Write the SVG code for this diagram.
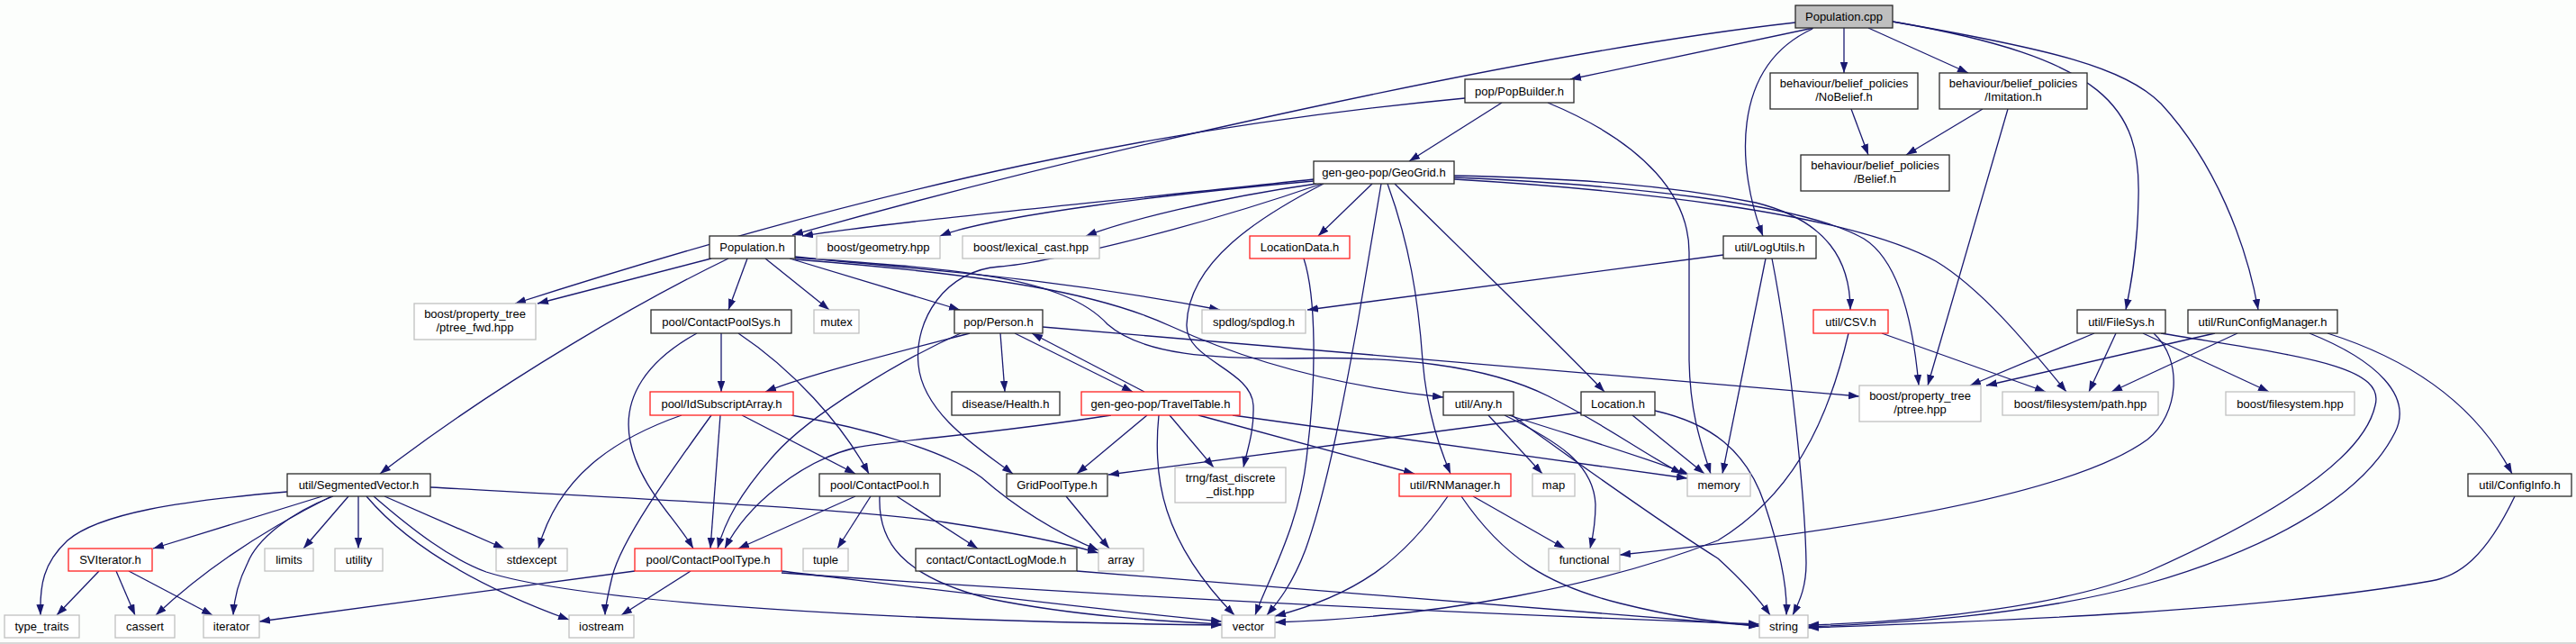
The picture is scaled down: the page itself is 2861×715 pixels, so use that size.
<svg xmlns="http://www.w3.org/2000/svg" width="2861" height="715" viewBox="0 0 2861 715">
<style>
.bg{fill:#fcfefc}
.node rect{fill:#ffffff;stroke-width:1.3}
.b rect{stroke:#2a2a2a}
.r rect{stroke:#ff2020}
.g rect{stroke:#c0c0c0}
.root rect{fill:#bfbfbf;stroke:#2a2a2a}
.node text{font-family:"Liberation Sans",Arial,sans-serif;font-size:13px;fill:#000;text-anchor:middle}
#edges path{fill:none;stroke:#191970;stroke-width:1.3;marker-end:url(#a)}
</style>
<defs>
<marker id="a" markerUnits="userSpaceOnUse" markerWidth="13" markerHeight="9" refX="12" refY="4.25" orient="auto">
<path d="M0,0 L12,4.25 L0,8.5 z" fill="#191970"/>
</marker>
</defs>
<rect class="bg" x="0" y="0" width="2861" height="715"/>
<line x1="0" y1="714" x2="2861" y2="714" stroke="#b4b4b4" stroke-width="1"/>

<g id="edges">
<path d="M1994,25 C1700,58 1200,170 880,261"/>
<path d="M2014,31 L1744,88"/>
<path d="M2048,31 L2048,81"/>
<path d="M2075,31 L2186,81"/>
<path d="M2013,32 C1920,75 1930,190 1958,262"/>
<path d="M2102,24 C2340,65 2378,120 2375,220 C2374,280 2366,320 2361,344"/>
<path d="M2102,24 C2280,55 2360,75 2400,115 C2460,180 2495,270 2508,344"/>
<path d="M1627,109 C1300,140 1000,200 572,337"/>
<path d="M1668,114 L1565,179"/>
<path d="M1719,114 C1830,160 1876,220 1876,280 L1876,400 C1877,460 1890,495 1900,526"/>
<path d="M2056,121 L2075,172"/>
<path d="M2202,121 L2117,172"/>
<path d="M2230,121 L2141,428"/>
<path d="M1459,199 C1250,222 1000,245 891,262"/>
<path d="M1459,201 C1300,215 1100,240 1044,262"/>
<path d="M1462,204 C1350,220 1250,245 1206,262"/>
<path d="M1468,204 C1300,262 1150,293 1110,296 C1050,300 1015,355 1020,405 C1025,460 1090,500 1125,526"/>
<path d="M1470,204 C1400,240 1320,290 1318,360 C1316,400 1390,410 1392,450 C1393,480 1385,500 1381,519"/>
<path d="M1524,204 L1464,262"/>
<path d="M1534,204 L1508,358 C1495,430 1475,540 1450,610 C1435,650 1418,670 1407,683"/>
<path d="M1541,204 C1565,270 1575,330 1580,400 C1585,460 1600,500 1611,526"/>
<path d="M1549,204 C1620,275 1720,370 1782,435"/>
<path d="M1615,195 C1750,198 1850,205 1950,225 C2030,245 2055,290 2055,344"/>
<path d="M1615,197 C1800,205 2000,225 2070,265 C2110,290 2125,360 2131,428"/>
<path d="M1615,199 C1800,210 2050,235 2150,290 C2200,320 2250,380 2295,435"/>
<path d="M1448,287 C1462,330 1462,420 1452,500 C1445,580 1410,640 1394,683"/>
<path d="M790,287 L597,337"/>
<path d="M809,287 C720,330 560,420 422,526"/>
<path d="M830,287 L809,344"/>
<path d="M850,287 L921,344"/>
<path d="M877,287 L1066,344"/>
<path d="M883,285 C1000,298 1150,305 1355,344"/>
<path d="M883,288 C1100,305 1220,325 1300,362 C1350,385 1450,425 1603,441"/>
<path d="M883,286 C1050,298 1180,305 1230,360 C1270,395 1350,398 1431,398 C1550,395 1650,405 1720,440 C1780,470 1820,500 1868,526"/>
<path d="M1077,370 C1000,390 900,415 850,435"/>
<path d="M1067,370 C1000,400 900,460 860,505 C820,550 805,580 797,609"/>
<path d="M1111,370 L1116,435"/>
<path d="M1127,370 L1258,435"/>
<path d="M1271,435 L1146,370"/>
<path d="M1158,363 L2065,440"/>
<path d="M757,461 C680,488 620,530 598,609"/>
<path d="M790,461 C740,530 690,600 680,640 C674,665 672,675 672,683"/>
<path d="M800,461 L789,609"/>
<path d="M824,461 L950,526"/>
<path d="M879,461 C960,475 1050,500 1090,530 C1130,565 1170,590 1220,611"/>
<path d="M801,370 L801,435"/>
<path d="M774,370 C720,400 690,440 700,490 C710,540 750,575 770,609"/>
<path d="M820,370 C880,410 935,470 965,526"/>
<path d="M950,551 L820,609"/>
<path d="M967,551 L930,609"/>
<path d="M996,551 L1086,609"/>
<path d="M977,551 C975,600 1000,640 1100,665 C1200,685 1300,690 1357,693"/>
<path d="M767,634 L690,683"/>
<path d="M705,634 L288,690"/>
<path d="M868,634 C1000,650 1200,675 1357,690"/>
<path d="M868,636 C1200,660 1600,680 1954,693"/>
<path d="M1196,634 C1500,660 1800,685 1954,695"/>
<path d="M319,546 C200,556 110,570 75,600 C48,625 44,650 45,683"/>
<path d="M358,551 L170,609"/>
<path d="M368,551 C320,575 240,620 173,683"/>
<path d="M370,551 C320,570 285,600 275,625 C265,645 260,665 259,683"/>
<path d="M387,551 L337,609"/>
<path d="M398,551 L398,609"/>
<path d="M427,551 L560,609"/>
<path d="M407,551 C440,590 500,640 632,688"/>
<path d="M415,551 C460,590 500,620 540,635 C650,670 1000,690 1357,694"/>
<path d="M478,541 C700,553 950,565 1050,580 C1130,592 1190,605 1220,614"/>
<path d="M110,634 L63,683"/>
<path d="M129,634 L150,683"/>
<path d="M143,634 L236,683"/>
<path d="M1184,551 L1232,609"/>
<path d="M1274,461 L1196,526"/>
<path d="M1299,461 L1348,519"/>
<path d="M1287,461 C1280,530 1290,600 1371,683"/>
<path d="M1234,461 C1100,482 1000,488 950,497 C890,512 830,560 805,609"/>
<path d="M1331,461 L1571,526"/>
<path d="M1369,461 L1874,531"/>
<path d="M1756,458 L1231,527"/>
<path d="M1813,461 L1893,526"/>
<path d="M1838,456 C1900,470 1940,500 1960,560 C1980,620 1985,660 1984,683"/>
<path d="M1653,461 L1713,526"/>
<path d="M1671,461 C1730,490 1770,515 1772,560 C1772,585 1768,600 1766,609"/>
<path d="M1676,461 C1750,485 1820,505 1876,527"/>
<path d="M1679,461 C1760,520 1860,590 1908,620 C1930,640 1950,660 1966,683"/>
<path d="M1914,283 L1452,344"/>
<path d="M1961,287 L1913,526"/>
<path d="M1968,287 C1990,400 2005,560 2006,625 C2006,650 2000,665 1991,683"/>
<path d="M2090,370 L2272,435"/>
<path d="M2053,370 C2030,470 1990,550 1908,600 C1780,650 1600,685 1416,691"/>
<path d="M1608,551 C1560,620 1510,660 1416,684"/>
<path d="M1636,551 L1738,609"/>
<path d="M1623,551 C1670,620 1720,650 1800,670 C1860,685 1900,690 1954,695"/>
<path d="M2326,370 L2188,428"/>
<path d="M2350,370 L2320,435"/>
<path d="M2380,370 L2520,435"/>
<path d="M2392,370 C2425,400 2420,460 2385,488 C2300,550 2050,590 1799,616"/>
<path d="M2400,370 C2550,395 2650,405 2638,450 C2625,510 2520,575 2385,635 C2300,670 2150,690 2008,694"/>
<path d="M2460,370 L2206,428"/>
<path d="M2485,370 L2345,435"/>
<path d="M2565,370 C2640,400 2680,440 2660,480 C2620,560 2500,615 2385,648 C2250,685 2100,692 2008,696"/>
<path d="M2585,370 C2680,400 2750,450 2790,526"/>
<path d="M2793,551 C2760,620 2730,640 2700,645 C2500,680 2200,690 2008,697"/>
</g>

<g id="n_population_cpp" class="node root"><rect x="1994" y="6" width="108" height="25"/><text x="2048" y="23">Population.cpp</text></g>
<g id="n_popbuilder" class="node b"><rect x="1627" y="88" width="121" height="26"/><text x="1687.5" y="106">pop/PopBuilder.h</text></g>
<g id="n_nobelief" class="node b"><rect x="1966" y="81" width="164" height="40"/><text x="2048" y="97">behaviour/belief_policies</text><text x="2048" y="112">/NoBelief.h</text></g>
<g id="n_imitation" class="node b"><rect x="2154" y="81" width="164" height="40"/><text x="2236" y="97">behaviour/belief_policies</text><text x="2236" y="112">/Imitation.h</text></g>
<g id="n_belief" class="node b"><rect x="2000" y="172" width="165" height="40"/><text x="2082.5" y="188">behaviour/belief_policies</text><text x="2082.5" y="203">/Belief.h</text></g>
<g id="n_geogrid" class="node b"><rect x="1459" y="179" width="156" height="25"/><text x="1537" y="196">gen-geo-pop/GeoGrid.h</text></g>
<g id="n_population_h" class="node b"><rect x="788" y="262" width="95" height="25"/><text x="835.5" y="279">Population.h</text></g>
<g id="n_geometry" class="node g"><rect x="907" y="262" width="137" height="25"/><text x="975.5" y="279">boost/geometry.hpp</text></g>
<g id="n_lexical_cast" class="node g"><rect x="1069" y="262" width="152" height="25"/><text x="1145" y="279">boost/lexical_cast.hpp</text></g>
<g id="n_locationdata" class="node r"><rect x="1388" y="262" width="111" height="25"/><text x="1443.5" y="279">LocationData.h</text></g>
<g id="n_logutils" class="node b"><rect x="1914" y="262" width="103" height="25"/><text x="1965.5" y="279">util/LogUtils.h</text></g>
<g id="n_ptree_fwd" class="node g"><rect x="460" y="337" width="135" height="40"/><text x="527.5" y="353">boost/property_tree</text><text x="527.5" y="368">/ptree_fwd.hpp</text></g>
<g id="n_contactpoolsys" class="node b"><rect x="723" y="344" width="156" height="26"/><text x="801" y="362">pool/ContactPoolSys.h</text></g>
<g id="n_mutex" class="node g"><rect x="904" y="344" width="50" height="26"/><text x="929" y="362">mutex</text></g>
<g id="n_person" class="node b"><rect x="1060" y="344" width="98" height="26"/><text x="1109" y="362">pop/Person.h</text></g>
<g id="n_spdlog" class="node g"><rect x="1335" y="344" width="115" height="26"/><text x="1392.5" y="362">spdlog/spdlog.h</text></g>
<g id="n_csv" class="node r"><rect x="2014" y="344" width="83" height="26"/><text x="2055.5" y="362">util/CSV.h</text></g>
<g id="n_filesys" class="node b"><rect x="2307" y="344" width="98" height="26"/><text x="2356" y="362">util/FileSys.h</text></g>
<g id="n_runconfigmanager" class="node b"><rect x="2430" y="344" width="166" height="26"/><text x="2513" y="362">util/RunConfigManager.h</text></g>
<g id="n_idsubscriptarray" class="node r"><rect x="722" y="435" width="159" height="26"/><text x="801.5" y="453">pool/IdSubscriptArray.h</text></g>
<g id="n_health" class="node b"><rect x="1057" y="435" width="120" height="26"/><text x="1117" y="453">disease/Health.h</text></g>
<g id="n_traveltable" class="node r"><rect x="1201" y="435" width="176" height="26"/><text x="1289" y="453">gen-geo-pop/TravelTable.h</text></g>
<g id="n_any" class="node b"><rect x="1603" y="435" width="78" height="26"/><text x="1642" y="453">util/Any.h</text></g>
<g id="n_location" class="node b"><rect x="1756" y="435" width="82" height="26"/><text x="1797" y="453">Location.h</text></g>
<g id="n_ptree" class="node g"><rect x="2065" y="428" width="135" height="40"/><text x="2132.5" y="444">boost/property_tree</text><text x="2132.5" y="459">/ptree.hpp</text></g>
<g id="n_path" class="node g"><rect x="2224" y="435" width="173" height="26"/><text x="2310.5" y="453">boost/filesystem/path.hpp</text></g>
<g id="n_filesystem" class="node g"><rect x="2472" y="435" width="143" height="26"/><text x="2543.5" y="453">boost/filesystem.hpp</text></g>
<g id="n_segmentedvector" class="node b"><rect x="319" y="526" width="159" height="25"/><text x="398.5" y="543">util/SegmentedVector.h</text></g>
<g id="n_contactpool" class="node b"><rect x="910" y="526" width="134" height="25"/><text x="977" y="543">pool/ContactPool.h</text></g>
<g id="n_gridpooltype" class="node b"><rect x="1118" y="526" width="112" height="25"/><text x="1174" y="543">GridPoolType.h</text></g>
<g id="n_trng" class="node g"><rect x="1305" y="519" width="123" height="39"/><text x="1366.5" y="535">trng/fast_discrete</text><text x="1366.5" y="550">_dist.hpp</text></g>
<g id="n_rnmanager" class="node r"><rect x="1554" y="526" width="124" height="25"/><text x="1616" y="543">util/RNManager.h</text></g>
<g id="n_map" class="node g"><rect x="1702" y="526" width="47" height="25"/><text x="1725.5" y="543">map</text></g>
<g id="n_memory" class="node g"><rect x="1874" y="526" width="70" height="25"/><text x="1909" y="543">memory</text></g>
<g id="n_configinfo" class="node b"><rect x="2741" y="526" width="115" height="25"/><text x="2798.5" y="543">util/ConfigInfo.h</text></g>
<g id="n_sviterator" class="node r"><rect x="76" y="609" width="93" height="25"/><text x="122.5" y="626">SVIterator.h</text></g>
<g id="n_limits" class="node g"><rect x="294" y="609" width="54" height="25"/><text x="321" y="626">limits</text></g>
<g id="n_utility" class="node g"><rect x="372" y="609" width="53" height="25"/><text x="398.5" y="626">utility</text></g>
<g id="n_stdexcept" class="node g"><rect x="551" y="609" width="79" height="25"/><text x="590.5" y="626">stdexcept</text></g>
<g id="n_contactpooltype" class="node r"><rect x="705" y="609" width="163" height="25"/><text x="786.5" y="626">pool/ContactPoolType.h</text></g>
<g id="n_tuple" class="node g"><rect x="892" y="609" width="50" height="25"/><text x="917" y="626">tuple</text></g>
<g id="n_contactlogmode" class="node b"><rect x="1017" y="609" width="179" height="25"/><text x="1106.5" y="626">contact/ContactLogMode.h</text></g>
<g id="n_array" class="node g"><rect x="1220" y="609" width="50" height="25"/><text x="1245" y="626">array</text></g>
<g id="n_functional" class="node g"><rect x="1720" y="609" width="79" height="25"/><text x="1759.5" y="626">functional</text></g>
<g id="n_type_traits" class="node g"><rect x="5" y="683" width="83" height="25"/><text x="46.5" y="700">type_traits</text></g>
<g id="n_cassert" class="node g"><rect x="128" y="683" width="66" height="25"/><text x="161" y="700">cassert</text></g>
<g id="n_iterator" class="node g"><rect x="226" y="683" width="62" height="25"/><text x="257" y="700">iterator</text></g>
<g id="n_iostream" class="node g"><rect x="632" y="683" width="72" height="25"/><text x="668" y="700">iostream</text></g>
<g id="n_vector" class="node g"><rect x="1357" y="683" width="59" height="25"/><text x="1386.5" y="700">vector</text></g>
<g id="n_string" class="node g"><rect x="1954" y="683" width="54" height="25"/><text x="1981" y="700">string</text></g>
</svg>
